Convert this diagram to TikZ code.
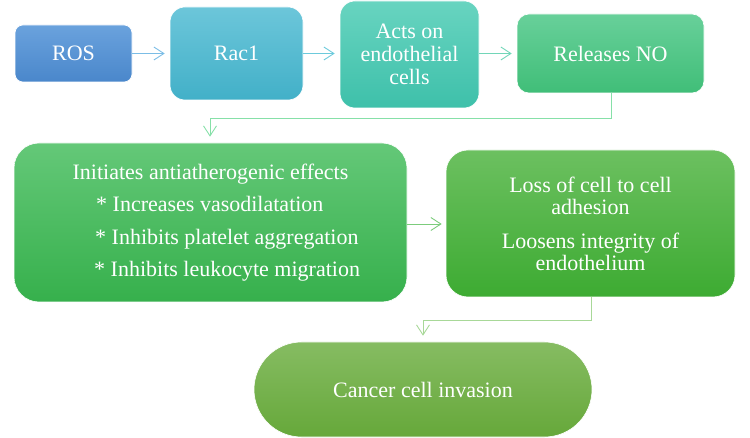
\documentclass[tikz,border=0pt]{standalone}
\usepackage{fontspec}
\setmainfont{Liberation Serif}
\usetikzlibrary{arrows.meta}
\definecolor{rosT}{HTML}{6AA2DD}\definecolor{rosB}{HTML}{4A87CB}
\definecolor{racT}{HTML}{6CC6DA}\definecolor{racB}{HTML}{42B0C8}
\definecolor{actT}{HTML}{68D4C0}\definecolor{actB}{HTML}{3EC0AA}
\definecolor{relT}{HTML}{68D09A}\definecolor{relB}{HTML}{40BE78}
\definecolor{iniT}{HTML}{64C878}\definecolor{iniB}{HTML}{36B04C}
\definecolor{losT}{HTML}{6CC060}\definecolor{losB}{HTML}{3DAB32}
\definecolor{canT}{HTML}{86BC62}\definecolor{canB}{HTML}{66A83A}
\definecolor{arA}{HTML}{7BBDE6}\definecolor{arB}{HTML}{6CCADC}
\definecolor{arC}{HTML}{72D6B8}\definecolor{arD}{HTML}{86E0A8}
\definecolor{arE}{HTML}{7CCC7C}\definecolor{arF}{HTML}{A8D898}
\begin{document}
\begin{tikzpicture}[x=1pt,y=-1pt,
  box/.style={rounded corners=#1, inner sep=0pt, text=white, draw=white, line width=0.6pt,
    font=\fontsize{22}{23}\selectfont, align=center},
  txt/.style={inner sep=0pt, text=white, font=\fontsize{22}{23}\selectfont},
  conn/.style={line width=0.9pt, -{Straight Barb[length=10pt,width=13pt,line width=0.9pt]}, shorten >=5pt}]
\useasboundingbox (0,0) rectangle (750,438);
% top row
\node[box=8pt, minimum width=117pt, minimum height=57pt, top color=rosT, bottom color=rosB] (ros) at (73.5,53.5) {ROS};
\node[box=15pt, minimum width=133pt, minimum height=93pt, top color=racT, bottom color=racB] (rac) at (236.5,53.5) {Rac1};
\node[box=15pt, minimum width=139pt, minimum height=107pt, top color=actT, bottom color=actB] (act) at (409.5,54.5) {Acts on\\endothelial\\cells};
\node[box=12pt, minimum width=187pt, minimum height=79pt, top color=relT, bottom color=relB] (rel) at (610.5,53.5) {Releases NO};
% second row
\node[box=25pt, minimum width=393pt, minimum height=159pt, top color=iniT, bottom color=iniB] (ini) at (210.5,222.5) {};
\node[txt, anchor=base] (t1) at (210.5,180) {Initiates antiatherogenic effects};
\node[txt, anchor=base west] (t2) at (96,212) {* Increases vasodilatation};
\node[txt, anchor=base west] (t3) at (95,245) {* Inhibits platelet aggregation};
\node[txt, anchor=base west] (t4) at (94,277) {* Inhibits leukocyte migration};
\node[box=22pt, minimum width=289pt, minimum height=147pt, top color=losT, bottom color=losB,
  font=\fontsize{22}{22}\selectfont] (los) at (590.5,223.5) {Loss of cell to cell\\adhesion\\[12pt]Loosens integrity of\\endothelium};
% bottom
\node[box=47.5pt, minimum width=338pt, minimum height=95pt, top color=canT, bottom color=canB] (can) at (423,389.5) {Cancer cell invasion};
% connectors
\draw[conn, arA] (ros.east) -- (rac.west);
\draw[conn, arB] (rac.east) -- (act.west |- rac.east);
\draw[conn, arC] (act.east |- rel.west) -- (rel.west);
\coordinate (k1) at (611,118);
\coordinate (k2) at (210,118);
\draw[conn, arD, shorten >=6pt] (rel.south -| k1) -- (k1) -- (k2) -- (k2 |- ini.north);
\draw[conn, arE, shorten >=4pt] (ini.east |- 0,224) -- (los.west |- 0,224);
\coordinate (k3) at (591,320);
\coordinate (k4) at (423,320);
\draw[conn, arF, shorten >=6pt] (los.south -| k3) -- (k3) -- (k4) -- (k4 |- can.north);
\end{tikzpicture}
\end{document}
